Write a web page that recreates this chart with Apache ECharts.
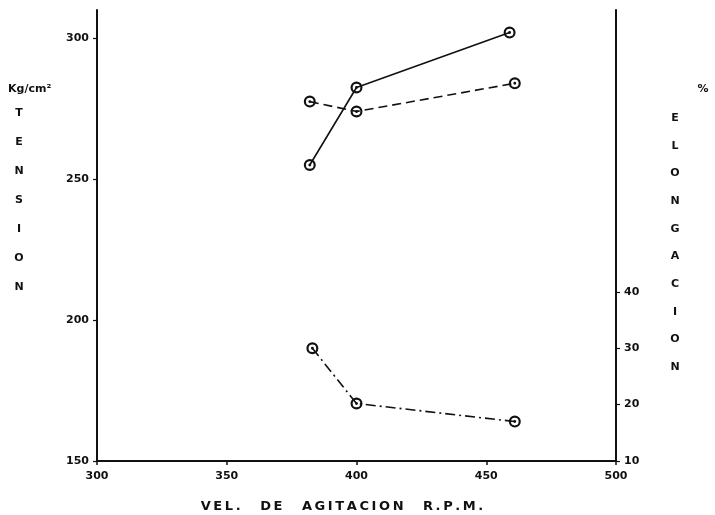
<!DOCTYPE html>
<html>
<head>
<meta charset="utf-8">
<script src="https://cdn.jsdelivr.net/npm/echarts@6/dist/echarts.min.js"></script>
<style>
  html, body { margin: 0; padding: 0; background: #fff; }
  #chart { width: 715px; height: 515px; }
</style>
</head>
<body>
<div id="chart"></div>
<script>
// Tension (kg/cm2) vs stirring speed, solid line
const rpmTension = [382, 400, 459];
const tension = [255, 282.5, 302];
// Second tension curve, dashed line
const rpmTensionB = [382, 400, 461];
const tensionB = [277.5, 274, 284];
// Elongation (%) on the right-hand axis, dash-dot line
const rpmElong = [383, 400, 461];
const elongation = [30, 20.2, 17];

const xTicks = [300, 350, 400, 450, 500];
const leftTicks = [150, 200, 250, 300];
const rightTicks = [10, 20, 30, 40];

const leftLetters = ['T', 'E', 'N', 'S', 'I', 'O', 'N'];
const rightLetters = ['E', 'L', 'O', 'N', 'G', 'A', 'C', 'I', 'O', 'N'];
const xTitle = 'VEL. DE AGITACION R.P.M.';

const FONT = 'DejaVu Sans';
const INK = '#111';

// ring with a centre dot
const ringSymbol = 'path://M10,0 A10,10 0 1,1 10,20 A10,10 0 1,1 10,0 Z ' +
  'M10,3.6 A6.4,6.4 0 1,0 10,16.4 A6.4,6.4 0 1,0 10,3.6 Z ' +
  'M10,7.6 A2.4,2.4 0 1,1 10,12.4 A2.4,2.4 0 1,1 10,7.6 Z';

function pairs(xs, ys) { return xs.map((x, i) => [x, ys[i]]); }

// spread capitals apart: thin space between letters, wider gap between words
function spaced(s) {
  return s.split(' ').map(w => w.split('').join('\u2009')).join('\u2003\u2002');
}

const labelStyle = { color: INK, fontFamily: FONT, fontWeight: 'bold', fontSize: 11 };

function seriesOf(name, xs, ys, axis, dash) {
  return {
    name: name,
    type: 'line',
    yAxisIndex: axis,
    data: pairs(xs, ys),
    symbol: ringSymbol,
    symbolSize: 12,
    itemStyle: { color: INK },
    lineStyle: { color: INK, width: 1.6, type: dash },
    z: 3
  };
}

const graphics = [];
graphics.push({ type: 'text', left: 8, top: 84,
  style: { text: 'Kg/cm²', fill: INK, font: 'bold 11px ' + FONT } });
leftLetters.forEach((ch, i) => {
  graphics.push({ type: 'text', x: 19, y: 113 + i * 29,
    style: { text: ch, fill: INK, font: 'bold 11px ' + FONT, align: 'center', verticalAlign: 'middle' } });
});
graphics.push({ type: 'text', x: 703, y: 89,
  style: { text: '%', fill: INK, font: 'bold 11px ' + FONT, align: 'center', verticalAlign: 'middle' } });
rightLetters.forEach((ch, i) => {
  graphics.push({ type: 'text', x: 675, y: 118 + i * 27.7,
    style: { text: ch, fill: INK, font: 'bold 11px ' + FONT, align: 'center', verticalAlign: 'middle' } });
});
graphics.push({ type: 'text', x: 342, y: 507,
  style: { text: spaced(xTitle), fill: INK, font: 'bold 13px ' + FONT, align: 'center', verticalAlign: 'middle' } });

const chart = echarts.init(document.getElementById('chart'), null, { renderer: 'canvas' });
chart.setOption({
  animation: false,
  backgroundColor: '#fff',
  grid: { left: 97, right: 99, top: 10, bottom: 54, containLabel: false },
  xAxis: {
    type: 'value',
    min: 300, max: 500, interval: 50,
    axisLine: { show: true, lineStyle: { color: INK, width: 2 } },
    axisTick: { show: true, length: 4, lineStyle: { color: INK, width: 1.5 }, customValues: xTicks },
    axisLabel: Object.assign({ margin: 10, customValues: xTicks }, labelStyle),
    splitLine: { show: false }
  },
  yAxis: [
    {
      type: 'value', position: 'left',
      min: 150, max: 310, interval: 50,
      axisLine: { show: true, lineStyle: { color: INK, width: 2 } },
      axisTick: { show: true, length: 4, lineStyle: { color: INK, width: 1.2 }, customValues: leftTicks },
      axisLabel: Object.assign({ margin: 8, customValues: leftTicks }, labelStyle),
      splitLine: { show: false }
    },
    {
      type: 'value', position: 'right',
      min: 10, max: 90, interval: 10,
      axisLine: { show: true, lineStyle: { color: INK, width: 2 } },
      axisTick: { show: true, length: 4, lineStyle: { color: INK, width: 1.2 }, customValues: rightTicks },
      axisLabel: Object.assign({ margin: 8, customValues: rightTicks }, labelStyle),
      splitLine: { show: false }
    }
  ],
  series: [
    seriesOf('Tension', rpmTension, tension, 0, 'solid'),
    seriesOf('Tension B', rpmTensionB, tensionB, 0, [9, 5]),
    seriesOf('Elongacion', rpmElong, elongation, 1, [10, 4, 2, 4])
  ],
  graphic: graphics
});
</script>
</body>
</html>
